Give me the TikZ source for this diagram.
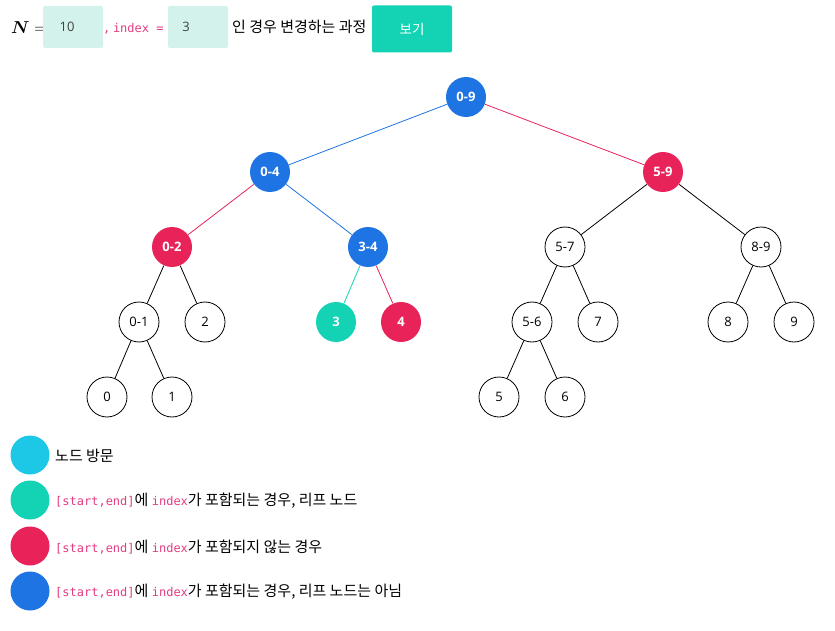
\documentclass[tikz,border=0pt]{standalone}
\usepackage{amsmath,bm}
\usepackage[no-math]{fontspec}
\setmainfont{Open Sans}
\newfontfamily\kr{Noto Sans CJK KR}
\newfontfamily\codefont{DejaVu Sans Mono}
\usetikzlibrary{positioning}
\definecolor{segblue}{RGB}{30,116,226}
\definecolor{segred}{RGB}{232,35,90}
\definecolor{seggreen}{RGB}{20,211,180}
\definecolor{segcyan}{RGB}{29,200,230}
\definecolor{boxmint}{RGB}{211,242,235}
\definecolor{codepink}{RGB}{226,60,130}
\newcommand{\code}[1]{{\codefont\fontsize{12}{14}\selectfont\color{codepink}#1}}

\begin{document}
\begin{tikzpicture}[x=1pt,y=-1pt,
  seg/.style={circle,draw=black,line width=0.8pt,fill=white,minimum size=40pt,inner sep=0pt,font=\fontsize{13}{15}\selectfont},
  hit/.style={seg,draw=none,fill=#1,text=white,font=\fontsize{13}{15}\selectfont\bfseries},
  edge/.style={line width=0.8pt},
  legdot/.style={circle,fill=#1,minimum size=39pt,inner sep=0pt},
  legtext/.style={anchor=west,inner sep=0pt,font=\kr\fontsize{15}{17}\selectfont},
  inbox/.style={fill=boxmint,rounded corners=2pt,minimum width=60pt,minimum height=42pt,inner sep=0pt,font=\fontsize{13}{15}\selectfont,text=black!75}]
\useasboundingbox (0,0) rectangle (835,631);
% input line
\node[anchor=west,inner sep=0pt,font=\fontsize{16}{18}\selectfont] (lblN) at (11,28) {$\bm{N} =$};
\node[inbox] (boxN) at (73,27) {\hspace*{-12pt}10};
\node[anchor=west,inner sep=0pt] (lblidx) at (103,29) {\code{,} \code{index =}};
\node[inbox] (boxidx) at (198,27) {\hspace*{-24pt}3};
\node[anchor=west,inner sep=0pt,font=\kr\fontsize{15}{17}\selectfont] (lbltxt) at (232,27) {인 경우 변경하는 과정};
\node[fill=seggreen,rounded corners=2pt,minimum width=80pt,minimum height=47pt,inner sep=0pt,text=white,font=\kr\fontsize{13.5}{15}\selectfont] (btn) at (412,29) {보기};
% segment tree
\node[hit=segblue] (n09) at (466,97) {0-9};
\node[hit=segblue] (n04) at (270,172) {0-4};
\node[hit=segred] (n59) at (663,172) {5-9};
\node[hit=segred] (n02) at (172,247) {0-2};
\node[hit=segblue] (n34) at (368,247) {3-4};
\node[seg] (n57) at (565,247) {5-7};
\node[seg] (n89) at (761,247) {8-9};
\node[seg] (n01) at (139,322) {0-1};
\node[seg] (n2) at (205,322) {2};
\node[hit=seggreen] (n3) at (336,322) {3};
\node[hit=segred] (n4) at (401,322) {4};
\node[seg] (n56) at (532,322) {5-6};
\node[seg] (n7) at (598,322) {7};
\node[seg] (n8) at (728,322) {8};
\node[seg] (n9) at (794,322) {9};
\node[seg] (n0) at (107,397) {0};
\node[seg] (n1) at (172,397) {1};
\node[seg] (n5) at (499,397) {5};
\node[seg] (n6) at (565,397) {6};
% edges
\draw[edge,segblue] (n09)--(n04);
\draw[edge,segred] (n09)--(n59);
\draw[edge,segred] (n04)--(n02);
\draw[edge,segblue] (n04)--(n34);
\draw[edge,seggreen] (n34)--(n3);
\draw[edge,segred] (n34)--(n4);
\foreach \a/\b in {n59/n57,n59/n89,n02/n01,n02/n2,n01/n0,n01/n1,n57/n56,n57/n7,n56/n5,n56/n6,n89/n8,n89/n9}
  \draw[edge] (\a)--(\b);
% legend
\node[legdot=segcyan] (dvisit) at (30,455) {};
\node[legdot=seggreen] (dleaf) at (30,500) {};
\node[legdot=segred] (dout) at (30,546) {};
\node[legdot=segblue] (dinner) at (30,591) {};
\node[legtext] (tvisit) at (55,456) {노드 방문};
\node[legtext] (tleaf) at (55,501) {\code{[start,end]}에 \code{index}가 포함되는 경우, 리프 노드};
\node[legtext] (tout) at (55,547) {\code{[start,end]}에 \code{index}가 포함되지 않는 경우};
\node[legtext] (tinner) at (55,592) {\code{[start,end]}에 \code{index}가 포함되는 경우, 리프 노드는 아님};
\end{tikzpicture}
\end{document}
